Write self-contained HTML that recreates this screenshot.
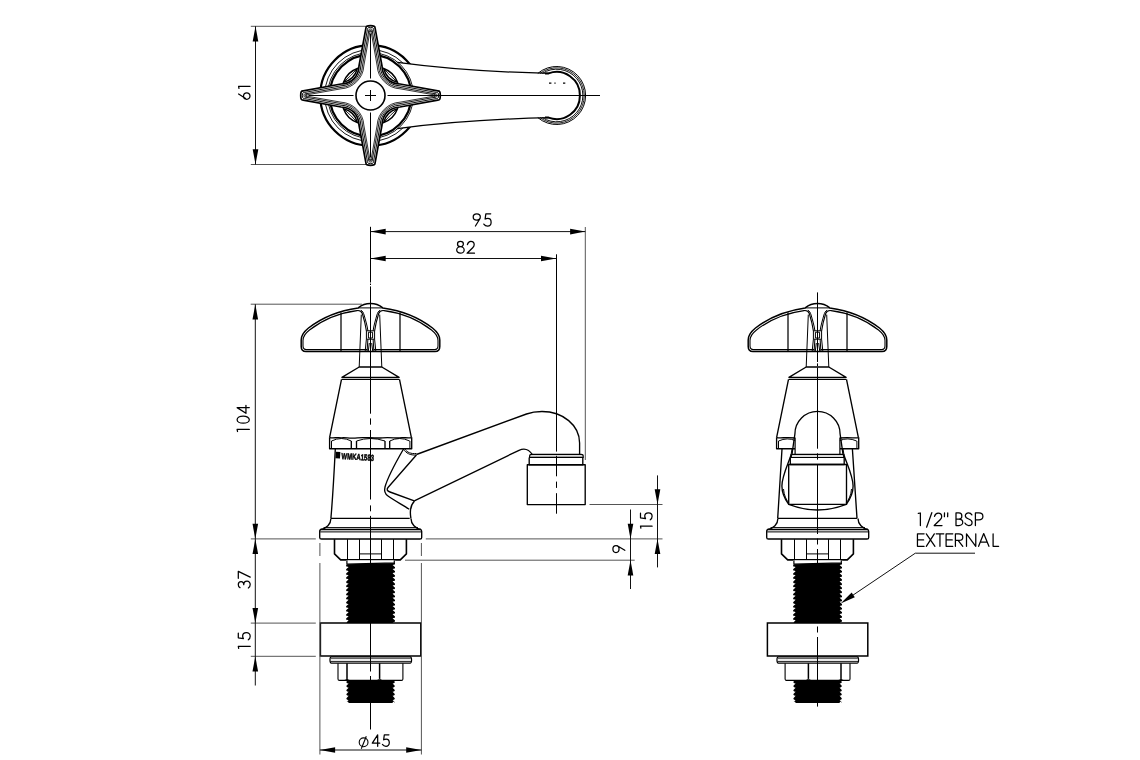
<!DOCTYPE html>
<html><head><meta charset="utf-8">
<style>
html,body{margin:0;padding:0;background:#fff;}
svg{display:block;}
.o{fill:none;stroke:#000;stroke-width:1.35;stroke-linejoin:round;}
.t{fill:none;stroke:#000;stroke-width:1.0;}
.g{fill:none;stroke:#333;stroke-width:1.0;}
.d{fill:none;stroke:#111;stroke-width:1.0;}
.e{fill:none;stroke:#555;stroke-width:1.0;}
.ar{fill:#000;stroke:none;}
.c{fill:none;stroke:#000;stroke-width:1.0;}
text{font-family:"Liberation Sans",sans-serif;fill:#000;}
.dim{font-size:18px;}
</style></head><body>
<svg width="1140" height="760" viewBox="0 0 1140 760">
<rect width="1140" height="760" fill="#fff"/>

<g>
<path class="e" d="M250.8,26.3 H370 M250.8,164.5 H370"/>
<path class="d" d="M255.5,26.3 V164.5"/>
<path class="ar" d="M255.50,26.30 L258.30,41.50 L252.70,41.50 Z"/>
<path class="ar" d="M255.50,164.50 L252.70,149.30 L258.30,149.30 Z"/>
<path transform="translate(250.00,99.30) rotate(-90) translate(0.00,0) scale(0.9500)" d="M5.6,-12 L0.8,-4.6 M3.4,-6.8 C5.278,-6.8 6.8,-5.278 6.8,-3.4 C6.8,-1.522 5.278,0.0 3.4,0.0 C1.522,0.0 0.0,-1.522 0.0,-3.4 C0.0,-5.278 1.522,-6.8 3.4,-6.8 Z " fill="none" stroke="#000" stroke-width="1.25" vector-effect="non-scaling-stroke" stroke-linecap="round" stroke-linejoin="round"/>
<path transform="translate(250.00,99.30) rotate(-90) translate(11.00,0) scale(0.9500)" d="M0,-11.6 L2.0,-12 V0" fill="none" stroke="#000" stroke-width="1.25" vector-effect="non-scaling-stroke" stroke-linecap="round" stroke-linejoin="round"/>
<circle cx="370.5" cy="95.5" r="50.3" fill="#fff" stroke="#000" stroke-width="2.2"/>
<circle cx="370.5" cy="95.5" r="45.9" fill="none" stroke="#000" stroke-width="0.9"/>
<path d="M397.4,62.4 Q465,71.5 550,73.4 L550,117.6 Q465,119.5 397.4,128.6 Z" fill="#fff" stroke="none"/>
<circle cx="370.5" cy="95.5" r="43.0" fill="none" stroke="#000" stroke-width="0.9"/>
<circle cx="370.5" cy="95.5" r="40.9" fill="none" stroke="#000" stroke-width="2.2"/>
<path d="M397.48,108.69 Q393.83,118.83 383.69,122.48 Q386.48,111.48 397.48,108.69 Z" fill="none" stroke="#000" stroke-width="1.5"/>
<path d="M397.48,108.69 Q390.16,115.16 383.69,122.48" fill="none" stroke="#000" stroke-width="0.9"/>
<path d="M357.31,122.48 Q347.17,118.83 343.52,108.69 Q354.52,111.48 357.31,122.48 Z" fill="none" stroke="#000" stroke-width="1.5"/>
<path d="M357.31,122.48 Q350.84,115.16 343.52,108.69" fill="none" stroke="#000" stroke-width="0.9"/>
<path d="M343.52,82.31 Q347.17,72.17 357.31,68.52 Q354.52,79.52 343.52,82.31 Z" fill="none" stroke="#000" stroke-width="1.5"/>
<path d="M343.52,82.31 Q350.84,75.84 357.31,68.52" fill="none" stroke="#000" stroke-width="0.9"/>
<path d="M383.69,68.52 Q393.83,72.17 397.48,82.31 Q386.48,79.52 383.69,68.52 Z" fill="none" stroke="#000" stroke-width="1.5"/>
<path d="M383.69,68.52 Q390.16,75.84 397.48,82.31" fill="none" stroke="#000" stroke-width="0.9"/>
<path d="M397.4,62.4 Q465,71.5 550,73.4 M397.4,128.6 Q465,119.5 550,117.6" fill="none" stroke="#000" stroke-width="1.25"/>
<path d="M537.82,73.40 A29.0,29.0 0 1 1 537.82,117.60" fill="none" stroke="#000" stroke-width="1.0"/>
<path d="M539.98,73.40 A27.65,27.65 0 1 1 539.98,117.60" fill="none" stroke="#000" stroke-width="0.85"/>
<path d="M542.34,73.40 A26.3,26.3 0 1 1 542.34,117.60" fill="none" stroke="#000" stroke-width="0.95"/>
<path d="M545,73.4 L548.6,73.4 A23.3,23.3 0 0 1 579.9,95.5 A23.3,23.3 0 0 1 548.6,117.6 L545,117.6" fill="none" stroke="#000" stroke-width="2.0"/>
<path d="M549,83.2 H551.4 M554.4,83.2 H555.6 M563,83.2 H565.3" stroke="#000" stroke-width="1.2"/>
<g transform="translate(370.5,95.5)">
<path d="M0.00,-69.80 C3.45,-69.80 4.70,-69.30 4.60,-67.30 L11.50,-29.50 C11.90,-19.00 19.00,-11.90 29.50,-11.50 L67.30,-4.60 C69.30,-4.70 69.80,-3.45 69.80,0.00 C69.80,3.45 69.30,4.70 67.30,4.60 L29.50,11.50 C19.00,11.90 11.90,19.00 11.50,29.50 L4.60,67.30 C4.70,69.30 3.45,69.80 0.00,69.80 C-3.45,69.80 -4.70,69.30 -4.60,67.30 L-11.50,29.50 C-11.90,19.00 -19.00,11.90 -29.50,11.50 L-67.30,4.60 C-69.30,4.70 -69.80,3.45 -69.80,0.00 C-69.80,-3.45 -69.30,-4.70 -67.30,-4.60 L-29.50,-11.50 C-19.00,-11.90 -11.90,-19.00 -11.50,-29.50 L-4.60,-67.30 C-4.70,-69.30 -3.45,-69.80 0.00,-69.80 Z" fill="#fff" stroke="#000" stroke-width="1.7" stroke-linejoin="round"/>
<path d="M0.00,-68.09 C2.30,-68.09 3.17,-67.59 3.07,-65.86 L9.70,-29.50 C10.10,-18.46 18.46,-10.10 29.50,-9.70 L65.86,-3.07 C67.59,-3.17 68.09,-2.30 68.09,0.00 C68.09,2.30 67.59,3.17 65.86,3.07 L29.50,9.70 C18.46,10.10 10.10,18.46 9.70,29.50 L3.07,65.86 C3.17,67.59 2.30,68.09 0.00,68.09 C-2.30,68.09 -3.17,67.59 -3.07,65.86 L-9.70,29.50 C-10.10,18.46 -18.46,10.10 -29.50,9.70 L-65.86,3.07 C-67.59,3.17 -68.09,2.30 -68.09,0.00 C-68.09,-2.30 -67.59,-3.17 -65.86,-3.07 L-29.50,-9.70 C-18.46,-10.10 -10.10,-18.46 -9.70,-29.50 L-3.07,-65.86 C-3.17,-67.59 -2.30,-68.09 0.00,-68.09 Z" fill="none" stroke="#000" stroke-width="0.95" stroke-linejoin="round"/>
<path d="M0.00,-66.57 C1.28,-66.57 1.81,-66.07 1.71,-64.58 L8.10,-29.50 C8.50,-17.98 17.98,-8.50 29.50,-8.10 L64.58,-1.71 C66.07,-1.81 66.57,-1.28 66.57,0.00 C66.57,1.28 66.07,1.81 64.58,1.71 L29.50,8.10 C17.98,8.50 8.50,17.98 8.10,29.50 L1.71,64.58 C1.81,66.07 1.28,66.57 0.00,66.57 C-1.28,66.57 -1.81,66.07 -1.71,64.58 L-8.10,29.50 C-8.50,17.98 -17.98,8.50 -29.50,8.10 L-64.58,1.71 C-66.07,1.81 -66.57,1.28 -66.57,0.00 C-66.57,-1.28 -66.07,-1.81 -64.58,-1.71 L-29.50,-8.10 C-17.98,-8.50 -8.50,-17.98 -8.10,-29.50 L-1.71,-64.58 C-1.81,-66.07 -1.28,-66.57 0.00,-66.57 Z" fill="none" stroke="#000" stroke-width="0.9" stroke-linejoin="round"/>
<path d="M0.00,-65.24 C0.52,-65.24 0.80,-64.74 0.70,-63.46 L6.70,-29.50 C7.10,-17.56 17.56,-7.10 29.50,-6.70 L63.46,-0.70 C64.74,-0.80 65.24,-0.52 65.24,0.00 C65.24,0.52 64.74,0.80 63.46,0.70 L29.50,6.70 C17.56,7.10 7.10,17.56 6.70,29.50 L0.70,63.46 C0.80,64.74 0.52,65.24 0.00,65.24 C-0.52,65.24 -0.80,64.74 -0.70,63.46 L-6.70,29.50 C-7.10,17.56 -17.56,7.10 -29.50,6.70 L-63.46,0.70 C-64.74,0.80 -65.24,0.52 -65.24,0.00 C-65.24,-0.52 -64.74,-0.80 -63.46,-0.70 L-29.50,-6.70 C-17.56,-7.10 -7.10,-17.56 -6.70,-29.50 L-0.70,-63.46 C-0.80,-64.74 -0.52,-65.24 0.00,-65.24 Z" fill="none" stroke="#000" stroke-width="0.8" stroke-linejoin="round"/>
<path d="M-2.3,-64.3 H2.3 M-2.3,64.3 H2.3 M-64.3,-2.3 V2.3 M64.3,-2.3 V2.3" stroke="#000" stroke-width="0.8"/>
<circle cx="0" cy="0" r="14.5" fill="#fff" stroke="#000" stroke-width="1.6"/>
<path d="M-62,0 H-17 M17,0 H229.5 M0,-62 V-17 M0,17 V62 M-5.5,0 H5.5 M0,-5.5 V5.5" fill="none" stroke="#000" stroke-width="1.0"/>
</g>
</g>
<g transform="translate(370.5,0)">
<path class="o" d="M-64.5,351.5 H64.5 C67.5,351.5 69.3,349.8 69.3,346.5 V340 C69.3,335.5 67,332 62,328 C48,317 31,310.5 12.3,307.9 A19.7,19.7 0 0 0 -12.3,307.9 C-31,310.5 -48,317 -62,328 C-67,332 -69.3,335.5 -69.3,340 V346.5 C-69.3,349.8 -67.5,351.5 -64.5,351.5 Z" style="stroke-width:1.5"/>
<path class="t" d="M-12.3,307.9 H12.3"/>
<path class="t" d="M-3.20,349.6 H-64.00 C-66.30,349.6 -67.50,348.5 -67.50,346 V340.5 C-67.50,336.5 -65.50,333.5 -61.00,330 C-47.00,319 -30.00,312.8 -13.50,310.6 C-10.50,310.2 -9.00,311.5 -8.20,313.5 C-6.80,318 -5.00,325 -4.10,330.8" style="stroke-width:1.1"/>
<path class="t" d="M-9.60,310.2 C-8.00,311 -7.20,312.5 -6.40,315 C-5.00,320 -3.20,326 -2.60,330.8"/>
<path class="t" d="M-4.10,339.2 L-5.30,351 M-2.60,339.2 L-3.40,351 M-1.20,343 L-2.20,351"/>
<path d="M-29.50,312.6 V351" stroke="#000" stroke-width="1.25" fill="none"/>
<path class="t" d="M-9.20,314.6 L-11.30,367"/>
<path class="t" d="M3.20,349.6 H64.00 C66.30,349.6 67.50,348.5 67.50,346 V340.5 C67.50,336.5 65.50,333.5 61.00,330 C47.00,319 30.00,312.8 13.50,310.6 C10.50,310.2 9.00,311.5 8.20,313.5 C6.80,318 5.00,325 4.10,330.8" style="stroke-width:1.1"/>
<path class="t" d="M9.60,310.2 C8.00,311 7.20,312.5 6.40,315 C5.00,320 3.20,326 2.60,330.8"/>
<path class="t" d="M4.10,339.2 L5.30,351 M2.60,339.2 L3.40,351 M1.20,343 L2.20,351"/>
<path d="M29.50,312.6 V351" stroke="#000" stroke-width="1.25" fill="none"/>
<path class="t" d="M9.20,314.6 L11.30,367"/>
<path class="t" d="M-4.1,330.8 H4.1 V339.2 H-4.1 Z M-2.1,332.2 V338 H2.1 V332.2 Z"/>
<path class="o" d="M-11.3,367 H11.3 L28.6,377.3 H-28.6 Z"/>
<path class="o" d="M-28.8,379.4 H28.8"/>
<path class="o" d="M-29,379.4 L-40.8,437.2 M29,379.4 L40.8,437.2"/>
<path class="o" d="M-40.9,437.2 V448.7 H41.2 V437.2 "/>
<path class="o" d="M-40.9,437.6 C-36,438.5 -34,437 -29,437.8 C-25,437 -21,439 -13,437.8 C-5,437 4,438.5 12,437.8 C20,437 26,438.5 29,437.8 C33,437 37,438.6 41.2,437.6"/>
<path class="t" d="M-39,441 Q-29,436 -19.2,441 M-14,441 Q0,436 14.5,441 M19.2,441 Q29,436 39.2,441"/>
<path class="t" d="M-39,441 V448.7 M39.4,441 V448.7"/>
<path class="o" d="M-19.2,441 V448.7 M-14,441 V448.7 M14.5,441 V448.7 M19.2,441 V448.7"/>
<path class="o" d="M-35.2,449 C-36.5,475 -38,500 -39.6,518.4 M-39.6,518.4 H39.2"/>
<path class="o" d="M-39.6,518.4 C-39.6,524 -44,528.5 -50,529.5 M40.5,518.4 C40.5,524 45,528.5 50.5,529.5"/>
<path class="o" d="M-49.2,529.5 H49.8 C50.8,529.5 51.2,530.4 51.2,531.5 V537.4 C51.2,538.4 50.5,539 49.5,539 H-49 C-50,539 -50.8,538.4 -50.8,537.4 V531.5 C-50.8,530.3 -50.2,529.5 -49.2,529.5 Z"/>
<path class="t" d="M-47,527.6 H47.5 M-50.3,531.9 H50.8"/>
<path d="M-36,539.2 V553.9 L-29.8,559.9 H29.8 L35.9,553.9 V539.2" fill="none" stroke="#000" stroke-width="1.6" stroke-linejoin="round"/>
<path class="t" d="M-23,539.2 V559.9 M23,539.2 V559.9 M-11,539.2 V559.9 M11,539.2 V559.9 M-11,553.9 H11"/>
<path d="M-23.20,562.60 L-24.11,562.60 C-24.70,561.52 -24.70,562.55 -21.90,562.96 L-24.11,565.01 C-24.70,565.62 -24.70,566.65 -21.90,567.06 L-24.11,569.11 C-24.70,569.72 -24.70,570.75 -21.90,571.16 L-24.11,573.21 C-24.70,573.82 -24.70,574.85 -21.90,575.26 L-24.11,577.31 C-24.70,577.92 -24.70,578.95 -21.90,579.36 L-24.11,581.41 C-24.70,582.02 -24.70,583.05 -21.90,583.46 L-24.11,585.51 C-24.70,586.12 -24.70,587.15 -21.90,587.56 L-24.11,589.61 C-24.70,590.22 -24.70,591.25 -21.90,591.66 L-24.11,593.71 C-24.70,594.32 -24.70,595.35 -21.90,595.76 L-24.11,597.81 C-24.70,598.42 -24.70,599.45 -21.90,599.86 L-24.11,601.91 C-24.70,602.52 -24.70,603.55 -21.90,603.96 L-24.11,606.01 C-24.70,606.62 -24.70,607.65 -21.90,608.06 L-24.11,610.11 C-24.70,610.72 -24.70,611.75 -21.90,612.16 L-24.11,614.21 C-24.70,614.82 -24.70,615.85 -21.90,616.26 L-24.11,618.31 C-24.70,618.92 -24.70,619.95 -21.90,620.36 L-24.11,622.41 L-23.20,622.90 L-23.20,622.90 L23.40,622.90 L23.40,622.90 L22.10,622.36 C24.90,621.95 24.90,620.92 24.31,620.31 L22.10,618.26 C24.90,617.85 24.90,616.82 24.31,616.21 L22.10,614.16 C24.90,613.75 24.90,612.72 24.31,612.11 L22.10,610.06 C24.90,609.65 24.90,608.62 24.31,608.01 L22.10,605.96 C24.90,605.55 24.90,604.52 24.31,603.91 L22.10,601.86 C24.90,601.45 24.90,600.42 24.31,599.81 L22.10,597.76 C24.90,597.35 24.90,596.32 24.31,595.71 L22.10,593.66 C24.90,593.25 24.90,592.22 24.31,591.61 L22.10,589.56 C24.90,589.15 24.90,588.12 24.31,587.51 L22.10,585.46 C24.90,585.05 24.90,584.02 24.31,583.41 L22.10,581.36 C24.90,580.95 24.90,579.92 24.31,579.31 L22.10,577.26 C24.90,576.85 24.90,575.82 24.31,575.21 L22.10,573.16 C24.90,572.75 24.90,571.72 24.31,571.11 L22.10,569.06 C24.90,568.65 24.90,567.62 24.31,567.01 L22.10,564.96 C24.90,564.55 24.90,563.52 24.31,562.91 L23.40,562.60 Z" fill="#000" stroke="none"/>
<path d="M-24.5,560.3 H24.7 V562.9 L-24.5,564.2 Z" fill="#fff"/><path d="M-23.6,560.3 V564.1 L23.8,562.9 V560.3" fill="none" stroke="#000" stroke-width="1.2"/>
<path d="M-50.1,623.1 H50.3 V656.1 H-50.1 Z" fill="none" stroke="#000" stroke-width="1.5"/>
<path d="M-39.2,656.9 H39.8 C41.4,656.9 41.6,663.1 39.8,663.1 H-39.2 C-41,663.1 -41,656.9 -39.2,656.9 Z" fill="none" stroke="#000" stroke-width="1.2"/>
<path d="M-39.8,658.6 H40.4" stroke="#444" stroke-width="0.9"/><path d="M-40.2,661.4 H40.6" stroke="#000" stroke-width="0.9"/>
<path d="M-32.50,663.3 V679 Q-32.50,680.4 -31.00,680.4 H31.00 Q32.40,680.4 32.40,679 V663.3" fill="none" stroke="#000" stroke-width="1.1"/>
<path d="M-23.50,663.3 V678.8 M9.10,663.3 V678.8" fill="none" stroke="#000" stroke-width="1.5"/>
<path d="M-23.50,678.6 Q-23.20,680.4 -21.00,680.4 M-23.50,678.6 Q-23.80,680.4 -26.00,680.4 M9.10,678.6 Q9.40,680.4 11.60,680.4 M9.10,678.6 Q8.80,680.4 6.60,680.4" fill="none" stroke="#000" stroke-width="1.0"/>
<path d="M-23.05,680.30 L-23.86,681.50 C-24.40,682.12 -24.40,683.14 -21.90,683.55 L-23.86,685.61 C-24.40,686.22 -24.40,687.25 -21.90,687.65 L-23.86,689.71 C-24.40,690.32 -24.40,691.35 -21.90,691.75 L-23.86,693.81 C-24.40,694.42 -24.40,695.45 -21.90,695.86 L-23.86,697.91 C-24.40,698.52 -24.40,699.55 -21.90,699.96 L-23.86,702.01 L-23.05,701.50 L-21.55,703.00 L21.75,703.00 L23.25,701.50 C24.60,703.65 24.60,702.62 24.05,702.01 L22.10,699.96 C24.60,699.55 24.60,698.52 24.05,697.91 L22.10,695.86 C24.60,695.45 24.60,694.42 24.05,693.81 L22.10,691.75 C24.60,691.35 24.60,690.32 24.05,689.71 L22.10,687.65 C24.60,687.25 24.60,686.22 24.05,685.61 L22.10,683.55 C24.60,683.14 24.60,682.12 24.05,681.50 L23.25,680.30 Z" fill="#000" stroke="none"/>
</g>
<path class="o" d="M403.5,449 C396,462 388,476 385,487 C384,491 385,494 388,496 C395,501 403,505 409.3,509.3"/>
<path class="o" d="M416.4,455 L388,487.5 C386.5,489.5 387,491 390,492 L414.3,500.8"/>
<path class="t" d="M403.5,449.3 C406,453 410,455.5 416.4,455 M404.8,448.9 C407,452.5 411,454 416.4,453.5"/>
<path class="o" d="M416.4,454.5 L526.5,414 C533,411.6 538,411.5 542,411.5 C563,411.5 579.6,425.3 579.6,443 V455"/>
<path class="o" d="M414.3,500.8 L519,450.3 C524,448 528.5,448.5 532.5,454.8"/>
<path class="o" d="M414.5,501 C410.5,505 409.8,512 410.9,518.4"/>
<path d="M529.6,457.4 V456 C529.6,454.9 530.4,454.3 531.5,454.3 H581.2 C582.4,454.3 583.2,454.9 583.2,456 V457.4 Z" fill="#ddd" stroke="#000" stroke-width="1.2"/>
<path class="o" d="M529.2,457.4 V464.7 H582.8 V457.4"/>
<path class="o" d="M527.3,464.7 H585.2 V504.6 H527.3 Z"/>
<path class="c" d="M370.5,226.8 V282.5 M370.5,283.6 V285.0 M370.5,286.4 V413.7 M370.5,418.4 V424.7 M370.5,430 V499.5 M370.5,505.4 V511.3 M370.5,515.9 V585.4 M370.5,590 V596 M370.5,600.6 V671.5 M370.5,676 V681 M370.5,686 V729.5"/>
<path class="c" d="M556.5,254.3 V451.6 M556.5,455.8 V476.3 M556.5,481.6 V487.9 M556.5,493.2 V513.7"/>
<path class="e" d="M585.3,227 V460"/>
<path class="d" d="M370.5,231.6 H585.3 M370.5,258.5 H556.2"/>
<path class="ar" d="M370.50,231.60 L385.70,228.80 L385.70,234.40 Z"/>
<path class="ar" d="M585.30,231.60 L570.10,234.40 L570.10,228.80 Z"/>
<path class="ar" d="M370.50,258.50 L385.70,255.70 L385.70,261.30 Z"/>
<path class="ar" d="M556.20,258.50 L541.00,261.30 L541.00,255.70 Z"/>
<path transform="translate(473.20,226.00) scale(1.0167)" d="M3.5,-12.0 C5.433,-12.0 7.0,-10.612 7.0,-8.9 C7.0,-7.188 5.433,-5.800000000000001 3.5,-5.800000000000001 C1.567,-5.800000000000001 0.0,-7.188 0.0,-8.9 C0.0,-10.612 1.567,-12.0 3.5,-12.0 Z M6.9,-7.6 L2.2,0" fill="none" stroke="#000" stroke-width="1.25" vector-effect="non-scaling-stroke" stroke-linecap="round" stroke-linejoin="round"/>
<path transform="translate(483.80,226.00) scale(1.0167)" d="M6.8,-12 H2.0 L1.3,-6.8 C2.1,-7.3 3,-7.6 3.9,-7.6 C5.9,-7.6 7.2,-6 7.2,-3.8 C7.2,-1.5 5.7,0 3.7,0 C2.2,0 0.9,-0.7 0,-1.9" fill="none" stroke="#000" stroke-width="1.25" vector-effect="non-scaling-stroke" stroke-linecap="round" stroke-linejoin="round"/>
<path transform="translate(456.70,253.20) scale(0.9833)" d="M3.8,-12.0 C5.457,-12.0 6.8,-10.791 6.8,-9.3 C6.8,-7.809 5.457,-6.6000000000000005 3.8,-6.6000000000000005 C2.143,-6.6000000000000005 0.7999999999999998,-7.809 0.7999999999999998,-9.3 C0.7999999999999998,-10.791 2.143,-12.0 3.8,-12.0 Z M3.8,-6.6 C5.899,-6.6 7.6,-5.123 7.6,-3.3 C7.6,-1.477 5.899,0.0 3.8,0.0 C1.701,0.0 0.0,-1.477 0.0,-3.3 C0.0,-5.123 1.701,-6.6 3.8,-6.6 Z " fill="none" stroke="#000" stroke-width="1.25" vector-effect="non-scaling-stroke" stroke-linecap="round" stroke-linejoin="round"/>
<path transform="translate(467.10,253.20) scale(0.9833)" d="M0.3,-8.8 C0.9,-10.9 2.2,-11.9 3.8,-11.9 C5.7,-11.9 7.2,-10.5 7.2,-8.5 C7.2,-7.3 6.6,-6.4 5.7,-5.5 L0,0 H7.5" fill="none" stroke="#000" stroke-width="1.25" vector-effect="non-scaling-stroke" stroke-linecap="round" stroke-linejoin="round"/>
<path class="e" d="M250.7,304.2 H362 M250.8,538.9 H315.8 M425.8,538.9 H662.5 M250.8,623.1 H315.8 M250.8,656.3 H315.8 M589.5,504.5 H662.5 M405,560.2 H634.7"/>
<path class="d" d="M255.3,304.2 V685.5"/>
<path class="ar" d="M255.30,304.20 L258.10,319.40 L252.50,319.40 Z"/>
<path class="ar" d="M255.30,538.90 L252.50,523.70 L258.10,523.70 Z"/>
<path class="ar" d="M255.30,538.90 L258.10,554.10 L252.50,554.10 Z"/>
<path class="ar" d="M255.30,623.10 L252.50,607.90 L258.10,607.90 Z"/>
<path class="ar" d="M255.30,656.30 L258.10,671.50 L252.50,671.50 Z"/>
<path transform="translate(249.30,430.90) rotate(-90) translate(-0.60,0) scale(1.0167)" d="M0,-11.6 L2.0,-12 V0" fill="none" stroke="#000" stroke-width="1.25" vector-effect="non-scaling-stroke" stroke-linecap="round" stroke-linejoin="round"/>
<path transform="translate(249.30,430.90) rotate(-90) translate(7.70,0) scale(1.0167)" d="M3.5,-12 C5.433,-12 7.0,-9.314 7.0,-6 C7.0,-2.686 5.433,0 3.5,0 C1.567,0 0.0,-2.686 0.0,-6 C0.0,-9.314 1.567,-12 3.5,-12 Z " fill="none" stroke="#000" stroke-width="1.25" vector-effect="non-scaling-stroke" stroke-linecap="round" stroke-linejoin="round"/>
<path transform="translate(249.30,430.90) rotate(-90) translate(17.60,0) scale(1.0167)" d="M5.6,0 V-12 L0,-3.3 H7.8" fill="none" stroke="#000" stroke-width="1.25" vector-effect="non-scaling-stroke" stroke-linecap="round" stroke-linejoin="round"/>
<path transform="translate(250.20,588.00) rotate(-90) translate(0.00,0) scale(0.9917)" d="M0.4,-10.3 C1,-11.4 2.1,-12 3.4,-12 C5.1,-12 6.4,-10.9 6.4,-9.2 C6.4,-7.5 5.1,-6.5 3.3,-6.5 C5.4,-6.5 7,-5.1 7,-3.2 C7,-1.3 5.5,0 3.5,0 C2,0 0.8,-0.7 0,-1.9" fill="none" stroke="#000" stroke-width="1.25" vector-effect="non-scaling-stroke" stroke-linecap="round" stroke-linejoin="round"/>
<path transform="translate(250.20,588.00) rotate(-90) translate(9.70,0) scale(0.9917)" d="M0,-12 H7 L1.2,0" fill="none" stroke="#000" stroke-width="1.25" vector-effect="non-scaling-stroke" stroke-linecap="round" stroke-linejoin="round"/>
<path transform="translate(250.20,648.40) rotate(-90) translate(0.00,0) scale(0.9917)" d="M0,-11.6 L2.0,-12 V0" fill="none" stroke="#000" stroke-width="1.25" vector-effect="non-scaling-stroke" stroke-linecap="round" stroke-linejoin="round"/>
<path transform="translate(250.20,648.40) rotate(-90) translate(8.60,0) scale(0.9917)" d="M6.8,-12 H2.0 L1.3,-6.8 C2.1,-7.3 3,-7.6 3.9,-7.6 C5.9,-7.6 7.2,-6 7.2,-3.8 C7.2,-1.5 5.7,0 3.7,0 C2.2,0 0.9,-0.7 0,-1.9" fill="none" stroke="#000" stroke-width="1.25" vector-effect="non-scaling-stroke" stroke-linecap="round" stroke-linejoin="round"/>
<path class="d" d="M657.5,475.4 V567.4 M630.5,509.5 V589"/>
<path class="ar" d="M657.50,504.50 L654.70,489.30 L660.30,489.30 Z"/>
<path class="ar" d="M657.50,538.90 L660.30,554.10 L654.70,554.10 Z"/>
<path class="ar" d="M630.50,538.90 L627.70,523.70 L633.30,523.70 Z"/>
<path class="ar" d="M630.50,560.20 L633.30,575.40 L627.70,575.40 Z"/>
<path transform="translate(652.10,528.10) rotate(-90) translate(0.00,0) scale(0.9667)" d="M0,-11.6 L2.0,-12 V0" fill="none" stroke="#000" stroke-width="1.25" vector-effect="non-scaling-stroke" stroke-linecap="round" stroke-linejoin="round"/>
<path transform="translate(652.10,528.10) rotate(-90) translate(8.30,0) scale(0.9667)" d="M6.8,-12 H2.0 L1.3,-6.8 C2.1,-7.3 3,-7.6 3.9,-7.6 C5.9,-7.6 7.2,-6 7.2,-3.8 C7.2,-1.5 5.7,0 3.7,0 C2.2,0 0.9,-0.7 0,-1.9" fill="none" stroke="#000" stroke-width="1.25" vector-effect="non-scaling-stroke" stroke-linecap="round" stroke-linejoin="round"/>
<path transform="translate(624.80,552.50) rotate(-90) translate(0.00,0) scale(0.9917)" d="M3.5,-12.0 C5.433,-12.0 7.0,-10.612 7.0,-8.9 C7.0,-7.188 5.433,-5.800000000000001 3.5,-5.800000000000001 C1.567,-5.800000000000001 0.0,-7.188 0.0,-8.9 C0.0,-10.612 1.567,-12.0 3.5,-12.0 Z M6.9,-7.6 L2.2,0" fill="none" stroke="#000" stroke-width="1.25" vector-effect="non-scaling-stroke" stroke-linecap="round" stroke-linejoin="round"/>
<path class="e" d="M319.9,543 V556 M319.9,563 V754.5 M421.4,543 V556 M421.4,563 V754.5"/>
<path class="d" d="M319.9,750 H421.4"/>
<path class="ar" d="M319.90,750.00 L335.10,747.20 L335.10,752.80 Z"/>
<path class="ar" d="M421.40,750.00 L406.20,752.80 L406.20,747.20 Z"/>
<circle cx="363.6" cy="742.3" r="4.4" fill="none" stroke="#000" stroke-width="1.1"/><path d="M361.3,748.8 L366.3,736.2" stroke="#000" stroke-width="1.1"/><path transform="translate(372.30,746.30) scale(0.9583)" d="M5.6,0 V-12 L0,-3.3 H7.8" fill="none" stroke="#000" stroke-width="1.25" vector-effect="non-scaling-stroke" stroke-linecap="round" stroke-linejoin="round"/>
<path transform="translate(382.40,746.30) scale(0.9583)" d="M6.8,-12 H2.0 L1.3,-6.8 C2.1,-7.3 3,-7.6 3.9,-7.6 C5.9,-7.6 7.2,-6 7.2,-3.8 C7.2,-1.5 5.7,0 3.7,0 C2.2,0 0.9,-0.7 0,-1.9" fill="none" stroke="#000" stroke-width="1.25" vector-effect="non-scaling-stroke" stroke-linecap="round" stroke-linejoin="round"/>
<g transform="translate(817.5,0)">
<path class="o" d="M-64.5,351.5 H64.5 C67.5,351.5 69.3,349.8 69.3,346.5 V340 C69.3,335.5 67,332 62,328 C48,317 31,310.5 12.3,307.9 A19.7,19.7 0 0 0 -12.3,307.9 C-31,310.5 -48,317 -62,328 C-67,332 -69.3,335.5 -69.3,340 V346.5 C-69.3,349.8 -67.5,351.5 -64.5,351.5 Z" style="stroke-width:1.5"/>
<path class="t" d="M-12.3,307.9 H12.3"/>
<path class="t" d="M-3.20,349.6 H-64.00 C-66.30,349.6 -67.50,348.5 -67.50,346 V340.5 C-67.50,336.5 -65.50,333.5 -61.00,330 C-47.00,319 -30.00,312.8 -13.50,310.6 C-10.50,310.2 -9.00,311.5 -8.20,313.5 C-6.80,318 -5.00,325 -4.10,330.8" style="stroke-width:1.1"/>
<path class="t" d="M-9.60,310.2 C-8.00,311 -7.20,312.5 -6.40,315 C-5.00,320 -3.20,326 -2.60,330.8"/>
<path class="t" d="M-4.10,339.2 L-5.30,351 M-2.60,339.2 L-3.40,351 M-1.20,343 L-2.20,351"/>
<path d="M-29.50,312.6 V351" stroke="#000" stroke-width="1.25" fill="none"/>
<path class="t" d="M-9.20,314.6 L-11.30,367"/>
<path class="t" d="M3.20,349.6 H64.00 C66.30,349.6 67.50,348.5 67.50,346 V340.5 C67.50,336.5 65.50,333.5 61.00,330 C47.00,319 30.00,312.8 13.50,310.6 C10.50,310.2 9.00,311.5 8.20,313.5 C6.80,318 5.00,325 4.10,330.8" style="stroke-width:1.1"/>
<path class="t" d="M9.60,310.2 C8.00,311 7.20,312.5 6.40,315 C5.00,320 3.20,326 2.60,330.8"/>
<path class="t" d="M4.10,339.2 L5.30,351 M2.60,339.2 L3.40,351 M1.20,343 L2.20,351"/>
<path d="M29.50,312.6 V351" stroke="#000" stroke-width="1.25" fill="none"/>
<path class="t" d="M9.20,314.6 L11.30,367"/>
<path class="t" d="M-4.1,330.8 H4.1 V339.2 H-4.1 Z M-2.1,332.2 V338 H2.1 V332.2 Z"/>
<path class="o" d="M-11.3,367 H11.3 L28.6,377.3 H-28.6 Z"/>
<path class="o" d="M-28.8,379.4 H28.8"/>
<path class="o" d="M-29,379.4 L-40.8,437.2 M29,379.4 L40.8,437.2"/>
<path class="o" d="M-40.9,437.2 V448.7 H-22.5 M22.5,448.7 H41.2 V437.2"/>
<path class="o" d="M-40.9,437.6 C-36,438.5 -32,437 -22.6,438 M22.6,438 C33,437 37,438.6 41.2,437.6"/>
<path class="t" d="M-39,441 Q-30,437 -22.3,440.6 M22.3,440.6 Q30,437 39.2,441"/>
<path class="t" d="M-39,441 V448.7 M39.4,441 V448.7"/>
<path class="o" d="M-25.5,454.2 L-22.6,434 A22.6,22.6 0 0 1 22.6,434 L25.5,454.2"/>
<path d="M-22.4,437.4 V454.3 M22.4,437.4 V454.3" fill="none" stroke="#000" stroke-width="1.2"/>
<path class="o" d="M-35.5,449 L-39.8,518.4 M34.9,449 L39.5,518.4 M-39.8,518.4 H39.5"/>
<path class="t" d="M-25.5,449 L-26.5,455 M25.5,449 L26.5,455"/>
<path d="M-26.2,457.5 V455.6 C-26.2,454.8 -25.6,454.3 -24.8,454.3 H24.8 C25.6,454.3 26.2,454.8 26.2,455.6 V457.5 Z" fill="#ddd" stroke="#000" stroke-width="1.2"/>
<path class="o" d="M-27.2,457.5 V464.5 H26.7 V457.5"/>
<path class="o" d="M-28.8,464.5 H29 V504.4 H-28.8 Z"/>
<path class="o" d="M-26.2,454.3 C-28.5,462 -35.6,476 -35.6,486 C-35.6,493.5 -32,500 -28.8,504.4 Q0,515.6 28.8,504.4 C32,500 35.6,493.5 35.6,486 C35.6,476 28.5,462 26.2,454.3"/>
<path class="t" d="M-34.0,489 C-33.6,495 -31.2,500 -28.8,502.6 M34.0,489 C33.6,495 31.2,500 28.8,502.6"/>
<path class="o" d="M-39.6,518.4 C-39.6,524 -44,528.5 -50,529.5 M40.5,518.4 C40.5,524 45,528.5 50.5,529.5"/>
<path class="o" d="M-49.2,529.5 H49.8 C50.8,529.5 51.2,530.4 51.2,531.5 V537.4 C51.2,538.4 50.5,539 49.5,539 H-49 C-50,539 -50.8,538.4 -50.8,537.4 V531.5 C-50.8,530.3 -50.2,529.5 -49.2,529.5 Z"/>
<path class="t" d="M-47,527.6 H47.5 M-50.3,531.9 H50.8"/>
<path d="M-36,539.2 V553.9 L-29.8,559.9 H29.8 L35.9,553.9 V539.2" fill="none" stroke="#000" stroke-width="1.6" stroke-linejoin="round"/>
<path class="t" d="M-23,539.2 V559.9 M23,539.2 V559.9 M-11,539.2 V559.9 M11,539.2 V559.9 M-11,553.9 H11"/>
<path d="M-23.20,562.60 L-24.11,562.60 C-24.70,561.52 -24.70,562.55 -21.90,562.96 L-24.11,565.01 C-24.70,565.62 -24.70,566.65 -21.90,567.06 L-24.11,569.11 C-24.70,569.72 -24.70,570.75 -21.90,571.16 L-24.11,573.21 C-24.70,573.82 -24.70,574.85 -21.90,575.26 L-24.11,577.31 C-24.70,577.92 -24.70,578.95 -21.90,579.36 L-24.11,581.41 C-24.70,582.02 -24.70,583.05 -21.90,583.46 L-24.11,585.51 C-24.70,586.12 -24.70,587.15 -21.90,587.56 L-24.11,589.61 C-24.70,590.22 -24.70,591.25 -21.90,591.66 L-24.11,593.71 C-24.70,594.32 -24.70,595.35 -21.90,595.76 L-24.11,597.81 C-24.70,598.42 -24.70,599.45 -21.90,599.86 L-24.11,601.91 C-24.70,602.52 -24.70,603.55 -21.90,603.96 L-24.11,606.01 C-24.70,606.62 -24.70,607.65 -21.90,608.06 L-24.11,610.11 C-24.70,610.72 -24.70,611.75 -21.90,612.16 L-24.11,614.21 C-24.70,614.82 -24.70,615.85 -21.90,616.26 L-24.11,618.31 C-24.70,618.92 -24.70,619.95 -21.90,620.36 L-24.11,622.41 L-23.20,622.90 L-23.20,622.90 L23.40,622.90 L23.40,622.90 L22.10,622.36 C24.90,621.95 24.90,620.92 24.31,620.31 L22.10,618.26 C24.90,617.85 24.90,616.82 24.31,616.21 L22.10,614.16 C24.90,613.75 24.90,612.72 24.31,612.11 L22.10,610.06 C24.90,609.65 24.90,608.62 24.31,608.01 L22.10,605.96 C24.90,605.55 24.90,604.52 24.31,603.91 L22.10,601.86 C24.90,601.45 24.90,600.42 24.31,599.81 L22.10,597.76 C24.90,597.35 24.90,596.32 24.31,595.71 L22.10,593.66 C24.90,593.25 24.90,592.22 24.31,591.61 L22.10,589.56 C24.90,589.15 24.90,588.12 24.31,587.51 L22.10,585.46 C24.90,585.05 24.90,584.02 24.31,583.41 L22.10,581.36 C24.90,580.95 24.90,579.92 24.31,579.31 L22.10,577.26 C24.90,576.85 24.90,575.82 24.31,575.21 L22.10,573.16 C24.90,572.75 24.90,571.72 24.31,571.11 L22.10,569.06 C24.90,568.65 24.90,567.62 24.31,567.01 L22.10,564.96 C24.90,564.55 24.90,563.52 24.31,562.91 L23.40,562.60 Z" fill="#000" stroke="none"/>
<path d="M-24.5,560.3 H24.7 V562.9 L-24.5,564.2 Z" fill="#fff"/><path d="M-23.6,560.3 V564.1 L23.8,562.9 V560.3" fill="none" stroke="#000" stroke-width="1.2"/>
<path d="M-50.1,623.1 H50.3 V656.1 H-50.1 Z" fill="none" stroke="#000" stroke-width="1.5"/>
<path d="M-39.2,656.9 H39.8 C41.4,656.9 41.6,663.1 39.8,663.1 H-39.2 C-41,663.1 -41,656.9 -39.2,656.9 Z" fill="none" stroke="#000" stroke-width="1.2"/>
<path d="M-39.8,658.6 H40.4" stroke="#444" stroke-width="0.9"/><path d="M-40.2,661.4 H40.6" stroke="#000" stroke-width="0.9"/>
<path d="M32.50,663.3 V679 Q32.50,680.4 31.00,680.4 H-31.00 Q-32.40,680.4 -32.40,679 V663.3" fill="none" stroke="#000" stroke-width="1.1"/>
<path d="M23.50,663.3 V678.8 M-9.10,663.3 V678.8" fill="none" stroke="#000" stroke-width="1.5"/>
<path d="M23.50,678.6 Q23.20,680.4 21.00,680.4 M23.50,678.6 Q23.80,680.4 26.00,680.4 M-9.10,678.6 Q-9.40,680.4 -11.60,680.4 M-9.10,678.6 Q-8.80,680.4 -6.60,680.4" fill="none" stroke="#000" stroke-width="1.0"/>
<path d="M-23.05,680.30 L-23.86,681.50 C-24.40,682.12 -24.40,683.14 -21.90,683.55 L-23.86,685.61 C-24.40,686.22 -24.40,687.25 -21.90,687.65 L-23.86,689.71 C-24.40,690.32 -24.40,691.35 -21.90,691.75 L-23.86,693.81 C-24.40,694.42 -24.40,695.45 -21.90,695.86 L-23.86,697.91 C-24.40,698.52 -24.40,699.55 -21.90,699.96 L-23.86,702.01 L-23.05,701.50 L-21.55,703.00 L21.75,703.00 L23.25,701.50 C24.60,703.65 24.60,702.62 24.05,702.01 L22.10,699.96 C24.60,699.55 24.60,698.52 24.05,697.91 L22.10,695.86 C24.60,695.45 24.60,694.42 24.05,693.81 L22.10,691.75 C24.60,691.35 24.60,690.32 24.05,689.71 L22.10,687.65 C24.60,687.25 24.60,686.22 24.05,685.61 L22.10,683.55 C24.60,683.14 24.60,682.12 24.05,681.50 L23.25,680.30 Z" fill="#000" stroke="none"/>
</g>
<path class="c" d="M817.5,292.4 V362 M817.5,363.4 V366.2 M817.5,367.6 V448.7 M817.5,453.3 V459.6 M817.5,465 V534 M817.5,538.5 V544.5 M817.5,549 V622 M817.5,626.5 V632.5 M817.5,637 V706.6"/>
<path class="d" d="M975,553.2 H915.3 L845,600.5"/>
<path class="ar" d="M840.60,603.40 L851.67,592.62 L854.79,597.27 Z"/>
<path transform="translate(918.30,525.50) scale(1.0417)" d="M0,-11.6 L2.0,-12 V0" fill="none" stroke="#000" stroke-width="1.25" vector-effect="non-scaling-stroke" stroke-linecap="round" stroke-linejoin="round"/>
<path transform="translate(926.60,525.50) scale(1.0417)" d="M0,1.6 L5.0,-12.3" fill="none" stroke="#000" stroke-width="1.25" vector-effect="non-scaling-stroke" stroke-linecap="round" stroke-linejoin="round"/>
<path transform="translate(934.20,525.50) scale(1.0417)" d="M0.3,-8.8 C0.9,-10.9 2.2,-11.9 3.8,-11.9 C5.7,-11.9 7.2,-10.5 7.2,-8.5 C7.2,-7.3 6.6,-6.4 5.7,-5.5 L0,0 H7.5" fill="none" stroke="#000" stroke-width="1.25" vector-effect="non-scaling-stroke" stroke-linecap="round" stroke-linejoin="round"/>
<path transform="translate(944.40,525.50) scale(1.0417)" d="M0.1,-12 L0,-8.4 M3.2,-12 L3.1,-8.4" fill="none" stroke="#000" stroke-width="1.25" vector-effect="non-scaling-stroke" stroke-linecap="round" stroke-linejoin="round"/>
<path transform="translate(956.00,525.50) scale(1.0417)" d="M0,0 V-12 H2.8 C4.6,-12 5.6,-11 5.6,-9.2 C5.6,-7.3 4.4,-6.2 2.6,-6.2 H0 M2.6,-6.2 C4.9,-6.2 6.5,-5 6.5,-3.1 C6.5,-1.2 5,0 2.8,0 H0" fill="none" stroke="#000" stroke-width="1.25" vector-effect="non-scaling-stroke" stroke-linecap="round" stroke-linejoin="round"/>
<path transform="translate(964.90,525.50) scale(1.0417)" d="M6.7,-10.2 C6,-11.4 4.9,-12.1 3.5,-12.1 C1.7,-12.1 0.4,-10.9 0.4,-9.3 C0.4,-7.6 1.8,-6.9 3.6,-6.2 C5.6,-5.4 6.9,-4.4 6.9,-2.9 C6.9,-1.1 5.4,0.1 3.6,0.1 C2,0.1 0.7,-0.8 0,-2.3" fill="none" stroke="#000" stroke-width="1.25" vector-effect="non-scaling-stroke" stroke-linecap="round" stroke-linejoin="round"/>
<path transform="translate(975.40,525.50) scale(1.0417)" d="M0,0 V-12 H3.4 C5.6,-12 7.2,-10.8 7.2,-8.7 C7.2,-6.6 5.6,-5.4 3.4,-5.4 H0" fill="none" stroke="#000" stroke-width="1.25" vector-effect="non-scaling-stroke" stroke-linecap="round" stroke-linejoin="round"/>
<path transform="translate(917.45,546.30) scale(1.0417)" d="M6.4,-12 H0 V0 H6.4 M0,-6.1 H5.9" fill="none" stroke="#000" stroke-width="1.25" vector-effect="non-scaling-stroke" stroke-linecap="round" stroke-linejoin="round"/>
<path transform="translate(926.30,546.30) scale(1.0417)" d="M0,-12 L8.3,0 M7.7,-12 L0,0" fill="none" stroke="#000" stroke-width="1.25" vector-effect="non-scaling-stroke" stroke-linecap="round" stroke-linejoin="round"/>
<path transform="translate(936.20,546.30) scale(1.0417)" d="M0,-12 H7.3 M3.6,-12 V0" fill="none" stroke="#000" stroke-width="1.25" vector-effect="non-scaling-stroke" stroke-linecap="round" stroke-linejoin="round"/>
<path transform="translate(946.10,546.30) scale(1.0417)" d="M6.4,-12 H0 V0 H6.4 M0,-6.1 H5.9" fill="none" stroke="#000" stroke-width="1.25" vector-effect="non-scaling-stroke" stroke-linecap="round" stroke-linejoin="round"/>
<path transform="translate(955.40,546.30) scale(1.0417)" d="M0,0 V-12 H3.2 C5.6,-12 7.1,-10.9 7.1,-8.8 C7.1,-6.8 5.6,-5.7 3.2,-5.7 H0 M2.6,-5.7 L7.1,0" fill="none" stroke="#000" stroke-width="1.25" vector-effect="non-scaling-stroke" stroke-linecap="round" stroke-linejoin="round"/>
<path transform="translate(966.50,546.30) scale(1.0417)" d="M0,0 V-12 L8.9,0 V-12" fill="none" stroke="#000" stroke-width="1.25" vector-effect="non-scaling-stroke" stroke-linecap="round" stroke-linejoin="round"/>
<path transform="translate(978.60,546.30) scale(1.0417)" d="M0,0 L4.9,-12.2 L9.9,0 M1.7,-4.1 H8.2" fill="none" stroke="#000" stroke-width="1.25" vector-effect="non-scaling-stroke" stroke-linecap="round" stroke-linejoin="round"/>
<path transform="translate(993.10,546.30) scale(1.0417)" d="M0,-12 V0 H5.3" fill="none" stroke="#000" stroke-width="1.25" vector-effect="non-scaling-stroke" stroke-linecap="round" stroke-linejoin="round"/>
<g transform="rotate(3.6 336 455)" style="filter:grayscale(1)"><rect x="335.6" y="451.8" width="4.6" height="6.4" fill="#000"/><text x="341.6" y="458.6" style="font-size:8.6px;font-weight:bold;stroke:#000;stroke-width:0.5" textLength="32.5" lengthAdjust="spacingAndGlyphs">WMKA1583</text></g>
</svg>
</body></html>
